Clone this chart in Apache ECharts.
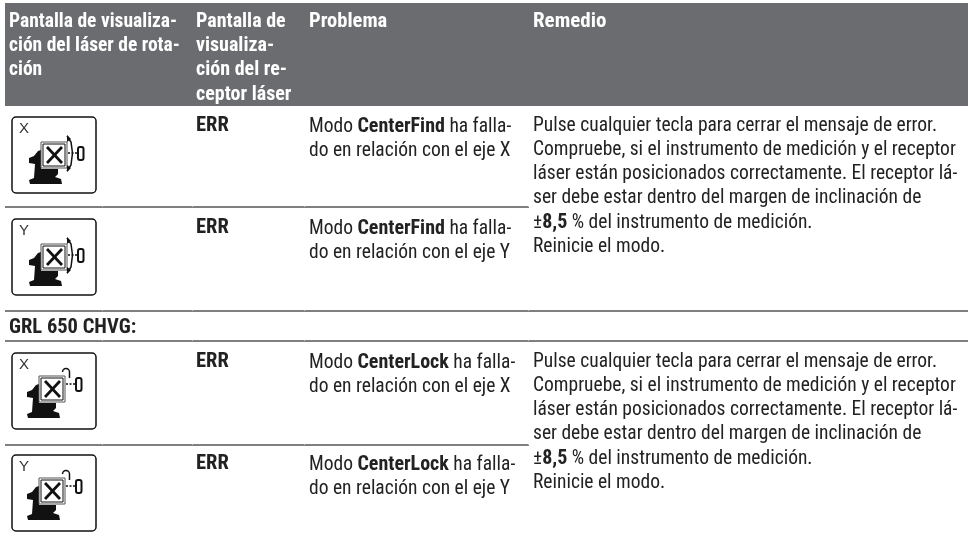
<!DOCTYPE html>
<html>
<head>
<meta charset="utf-8">
<style>html,body{margin:0;padding:0;background:#fff}#main{width:968px;height:541px}</style>
<script src="https://cdn.jsdelivr.net/npm/echarts@6/dist/echarts.min.js"></script>
</head>
<body>
<div id="main"></div>
<script>
// table content
const headers = [
    ['Pantalla de visualiza-', 'ción del láser de rota-', 'ción'],
    ['Pantalla de', 'visualiza-', 'ción del re-', 'ceptor láser'],
    ['Problema'],
    ['Remedio']
];
const errorCode = 'ERR';
const sectionTitle = 'GRL 650 CHVG:';
const problemFind = {
    X: ['Modo {b|CenterFind} ha falla-', 'do en relación con el eje X'],
    Y: ['Modo {b|CenterFind} ha falla-', 'do en relación con el eje Y']
};
const problemLock = {
    X: ['Modo {b|CenterLock} ha falla-', 'do en relación con el eje X'],
    Y: ['Modo {b|CenterLock} ha falla-', 'do en relación con el eje Y']
};
const remedy = [
    'Pulse cualquier tecla para cerrar el mensaje de error.',
    'Compruebe, si el instrumento de medición y el receptor',
    'láser están posicionados correctamente. El receptor lá-',
    'ser debe estar dentro del margen de inclinación de',
    '±{b|8,5} % del instrumento de medición.',
    'Reinicie el modo.'
];

const FONT = '"Liberation Sans Narrow", "Roboto Condensed", Roboto, sans-serif';
const INK = '#222';
const LINE_H = 24.2;
const colX = [9, 196, 309, 533];
const headerSizes = [19.5, 20, 20.5, 21];

let items = [];

function line(x1, y1, x2, y2, color, w) {
    items.push({ type: 'line', shape: { x1, y1, x2, y2 }, style: { stroke: color || '#555', lineWidth: w || 1 } });
}

function textLines(lines, x, y, opt) {
    opt = opt || {};
    const size = opt.size || 19.5;
    lines.forEach((t, i) => {
        items.push({
            type: 'text', x: x, y: y + i * LINE_H,
            style: {
                text: t, fill: opt.color || INK, verticalAlign: 'middle',
                font: (opt.bold ? 'bold ' : '') + size + 'px ' + FONT,
                rich: { b: { font: 'bold 20px ' + FONT, fill: opt.color || INK, verticalAlign: 'middle' } }
            }
        });
    });
}

// x: left of frame, y: top of frame
function icon(x, y, axisName, lock) {
    items.push({ type: 'rect', shape: { x: x, y: y, width: 84, height: 76, r: 4 }, style: { fill: '#fff', stroke: '#111', lineWidth: 1.5 } });
    items.push({ type: 'text', x: x + 7, y: y + 4, style: { text: axisName, fill: '#333', font: '15px "Liberation Sans"' } });
    const dx = lock ? -2 : 0;
    const dy = lock ? -2 : 0;
    // laser body
    items.push({
        type: 'polygon',
        shape: { points: [[17, 41], [22, 39], [26, 34], [29, 33], [29, 52], [46, 52], [46, 57], [43, 60], [49, 62], [50, 67], [18, 67], [17, 63], [22, 61], [23, 47], [17, 46]].map(p => [x + p[0] + dx, y + p[1] + dy]) },
        style: { fill: '#111' }
    });
    // screen
    items.push({ type: 'rect', shape: { x: x + 29 + dx, y: y + 25 + dy, width: 26, height: 26 }, style: { fill: '#fff', stroke: '#555', lineWidth: 1 } });
    items.push({ type: 'rect', shape: { x: x + 31 + dx, y: y + 27 + dy, width: 22, height: 22 }, style: { fill: '#fff', stroke: '#111', lineWidth: 1 } });
    line(x + 35 + dx, y + 30 + dy, x + 50 + dx, y + 46 + dy, '#111', 2.8);
    line(x + 50 + dx, y + 30 + dy, x + 35 + dx, y + 46 + dy, '#111', 2.8);
    // receiver
    const ry = lock ? 25 : 30;
    items.push({ type: 'rect', shape: { x: x + 66 + dx, y: y + ry, width: 5.5, height: 13, r: 2 }, style: { fill: '#fff', stroke: '#111', lineWidth: 2 } });
    items.push({ type: 'line', shape: { x1: x + 56 + dx, y1: y + ry + 6, x2: x + 66 + dx, y2: y + ry + 6 }, style: { stroke: '#111', lineWidth: 1.5, lineDash: [2, 1.5] } });
    if (lock) {
        items.push({ type: 'arc', shape: { cx: x + 54, cy: y + 19, r: 3.5, startAngle: Math.PI, endAngle: 2 * Math.PI }, style: { stroke: '#111', fill: 'none', lineWidth: 1.5 } });
        line(x + 57.5, y + 19, x + 57.5, y + 25, '#111', 1.5);
    } else {
        items.push({ type: 'polyline', shape: { points: [[x + 55, y + 19], [x + 59, y + 25], [x + 60.5, y + 36], [x + 59, y + 48], [x + 55, y + 54]] }, style: { stroke: '#111', fill: 'none', lineWidth: 1.5 } });
        items.push({ type: 'polygon', shape: { points: [[x + 55, y + 18], [x + 59, y + 22], [x + 55, y + 25]] }, style: { fill: '#111' } });
        items.push({ type: 'polygon', shape: { points: [[x + 55, y + 55], [x + 59, y + 51], [x + 55, y + 48]] }, style: { fill: '#111' } });
    }
}

// header band
items.push({ type: 'rect', shape: { x: 5, y: 3, width: 963, height: 103 }, style: { fill: '#6b6c70' } });
headers.forEach((h, i) => textLines(h, colX[i], 22, { bold: true, color: '#fff', size: headerSizes[i] }));

const rowLines = [
    [207, 5, 529],
    [311, 5, 968],
    [341, 5, 968],
    [445, 5, 529]
];
const cellBreaks = [102, 192, 304, 528];
rowLines.forEach(r => {
    line(r[1], r[0], r[2], r[0], '#555', 1.4);
    // hairline gaps where cells meet
    cellBreaks.filter(b => b < r[2]).forEach(b => line(b, r[0] - 1, b + 1, r[0] - 1, '#fff', 1));
});

// first block
[[117, 'X'], [219, 'Y']].forEach(r => {
    icon(12, r[0], r[1], false);
    textLines([errorCode], colX[1], r[0] + 9, { bold: true, size: 20.5 });
    textLines(problemFind[r[1]], colX[2], r[0] + 10);
});
textLines(remedy, colX[3], 126);

textLines([sectionTitle], 9, 328, { bold: true, size: 20.5 });

// second block
[[353, 'X'], [455, 'Y']].forEach(r => {
    icon(12, r[0], r[1], true);
    textLines([errorCode], colX[1], r[0] + 9, { bold: true, size: 20.5 });
    textLines(problemLock[r[1]], colX[2], r[0] + 10);
});
textLines(remedy, colX[3], 362);

const myChart = echarts.init(document.getElementById('main'), null, { renderer: 'canvas' });
myChart.setOption({ animation: false, graphic: { elements: items } });
</script>
</body>
</html>
